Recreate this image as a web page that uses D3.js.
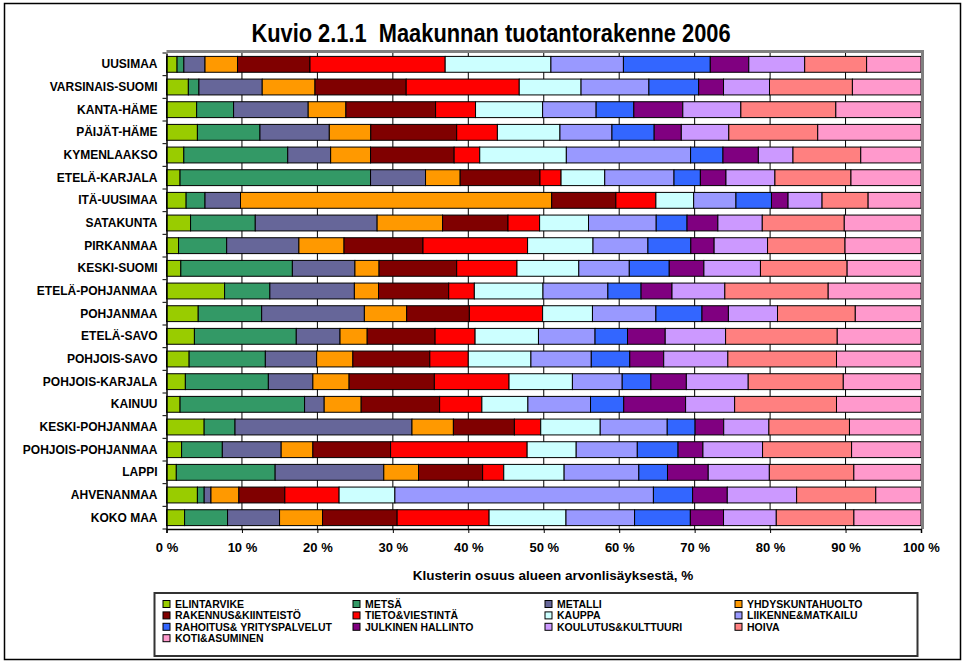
<!DOCTYPE html>
<html><head><meta charset="utf-8">
<script src="https://cdn.jsdelivr.net/npm/d3@7"></script>
<style>
body{margin:0;background:#fff}
svg{display:block}
text{font-family:"Liberation Sans",Arial,sans-serif;font-weight:bold;fill:#000}
</style>
</head><body>
<svg id="chart" width="967" height="665"></svg>
<script>
const titleText = "Kuvio 2.1.1  Maakunnan tuotantorakenne 2006";
const axisTitle = "Klusterin osuus alueen arvonlisäyksestä, %";
const regions = ["UUSIMAA","VARSINAIS-SUOMI","KANTA-HÄME","PÄIJÄT-HÄME","KYMENLAAKSO","ETELÄ-KARJALA","ITÄ-UUSIMAA","SATAKUNTA","PIRKANMAA","KESKI-SUOMI","ETELÄ-POHJANMAA","POHJANMAA","ETELÄ-SAVO","POHJOIS-SAVO","POHJOIS-KARJALA","KAINUU","KESKI-POHJANMAA","POHJOIS-POHJANMAA","LAPPI","AHVENANMAA","KOKO MAA"];
const categories = ["ELINTARVIKE","METSÄ","METALLI","YHDYSKUNTAHUOLTO","RAKENNUS&KIINTEISTÖ","TIETO&VIESTINTÄ","KAUPPA","LIIKENNE&MATKAILU","RAHOITUS& YRITYSPALVELUT","JULKINEN HALLINTO","KOULUTUS&KULTTUURI","HOIVA","KOTI&ASUMINEN"];
const colors = ["#99CC00","#339966","#666699","#FF9900","#800000","#FF0000","#CCFFFF","#9999FF","#3366FF","#800080","#CC99FF","#FF8080","#FF99CC"];

const elintarvike = [1.4,2.9,4.0,4.1,2.3,1.8,2.6,3.2,1.6,1.9,7.7,4.2,3.7,3.0,2.5,1.8,5.0,2.0,1.3,4.1,2.4];
const metsa       = [0.9,1.4,4.9,8.3,13.8,25.3,2.5,8.6,6.4,14.8,6.0,8.4,13.5,10.1,11.0,16.5,4.1,5.4,13.1,0.9,5.7];
const metalli     = [2.8,8.4,9.9,9.2,5.7,7.3,4.7,16.2,9.6,8.3,11.2,13.6,5.8,6.8,5.9,2.6,23.5,7.8,14.4,0.9,6.9];
const yhdyskunta  = [4.3,7.0,5.0,5.5,5.3,4.6,41.2,8.7,6.0,3.2,3.2,5.6,3.6,4.8,4.8,4.9,5.5,4.2,4.6,3.7,5.7];
const rakennus    = [9.6,12.1,11.9,11.4,11.1,10.6,8.5,8.7,10.5,10.3,9.3,8.3,9.0,10.2,11.3,10.4,8.1,10.3,8.5,6.1,9.9];
const tieto       = [17.9,15.0,5.3,5.4,3.4,2.8,5.3,4.2,13.9,8.0,3.4,9.7,5.3,5.1,9.9,5.6,3.5,18.1,2.8,7.2,12.2];
const kauppa      = [14.0,8.2,8.9,8.3,11.5,5.8,5.0,6.5,8.7,8.2,9.1,6.6,8.4,8.3,8.4,6.1,7.9,6.5,8.0,7.4,10.2];
const liikenne    = [9.6,9.0,7.1,6.9,16.5,9.2,5.6,9.0,7.3,6.7,8.6,8.4,7.5,8.0,6.6,8.3,8.9,8.1,9.9,34.3,9.1];
const rahoitus    = [11.5,6.6,5.0,5.6,4.3,3.5,4.7,4.1,5.7,5.3,4.4,6.1,4.3,5.1,3.8,4.4,3.7,5.4,3.8,5.2,7.4];
const julkinen    = [5.1,3.3,6.5,3.6,4.7,3.4,2.2,4.1,3.1,4.6,4.1,3.5,5.0,4.5,4.7,8.2,3.8,3.3,5.4,4.6,4.4];
const koulutus    = [7.4,6.1,7.7,6.3,4.6,6.5,4.5,5.9,7.1,7.5,7.0,6.5,8.0,8.5,8.2,6.5,6.0,7.9,8.1,9.2,7.0];
const hoiva       = [8.2,11.0,12.6,11.8,9.0,10.1,6.1,10.9,10.3,11.5,13.7,10.3,14.8,14.4,12.6,13.5,10.7,11.8,11.2,10.5,10.3];
const koti        = [7.2,9.1,11.3,13.7,8.0,9.3,7.0,10.2,10.1,9.8,12.3,8.7,11.1,11.2,10.3,11.2,9.5,9.2,8.9,6.0,8.9];

const xTickValues = [0,0.1,0.2,0.3,0.4,0.5,0.6,0.7,0.8,0.9,1];
const xTickLabels = ["0 %","10 %","20 %","30 %","40 %","50 %","60 %","70 %","80 %","90 %","100 %"];

const seriesValues = [elintarvike,metsa,metalli,yhdyskunta,rakennus,tieto,kauppa,liikenne,rahoitus,julkinen,koulutus,hoiva,koti];
const table = regions.map((r,i)=>{
  const row = {region:r};
  categories.forEach((c,j)=>{ row[c] = seriesValues[j][i]; });
  return row;
});

const svg = d3.select("#chart");
const plot = {left:166.5, right:921, top:53, bottom:529};

// outer frame
svg.append("rect").attr("x",4.5).attr("y",3.5).attr("width",956).attr("height",656)
  .attr("fill","#fff").attr("stroke","#000").attr("stroke-width",1.5);

svg.append("text").attr("transform","translate(491,42) scale(0.84,1)").attr("text-anchor","middle")
  .style("font-size","26px").style("white-space","pre").text(titleText);

const x = d3.scaleLinear().domain([0,1]).range([plot.left, plot.right]);
const y = d3.scaleBand().domain(regions).range([plot.top, plot.bottom]).paddingInner(0.3).paddingOuter(0.15);
const color = d3.scaleOrdinal().domain(categories).range(colors);

// vertical gridlines
svg.append("g").selectAll("line").data(xTickValues.slice(1,-1)).join("line")
  .attr("x1",d=>x(d)).attr("x2",d=>x(d)).attr("y1",plot.top).attr("y2",plot.bottom)
  .attr("stroke","#000").attr("stroke-width",1);

const stack = d3.stack().keys(categories).offset(d3.stackOffsetExpand);
const series = stack(table);

svg.append("g").selectAll("g").data(series).join("g")
  .attr("fill",d=>color(d.key))
  .selectAll("rect").data(d=>d).join("rect")
  .attr("x",d=>x(d[0])).attr("width",d=>x(d[1])-x(d[0]))
  .attr("y",d=>y(d.data.region)).attr("height",y.bandwidth())
  .attr("stroke","#000").attr("stroke-width",1);

// plot border: gray top/right
svg.append("line").attr("x1",plot.left).attr("x2",plot.right+2.5).attr("y1",plot.top-1.5).attr("y2",plot.top-1.5)
  .attr("stroke","#808080").attr("stroke-width",3);
svg.append("line").attr("x1",plot.right+1.5).attr("x2",plot.right+1.5).attr("y1",plot.top-3).attr("y2",plot.bottom)
  .attr("stroke","#808080").attr("stroke-width",3);

// x axis
const xAxis = d3.axisBottom(x).tickValues(xTickValues).tickFormat((d,i)=>xTickLabels[i]).tickSize(4).tickPadding(10);
const gx = svg.append("g").attr("transform",`translate(0,${plot.bottom})`).call(xAxis);
gx.select(".domain").attr("stroke","#000").attr("stroke-width",1.5);
gx.selectAll(".tick line").attr("stroke","#000");
gx.selectAll("text").style("font-size","13px").style("font-family","'Liberation Sans',Arial,sans-serif").style("font-weight","bold");

// y axis
const yAxis = d3.axisLeft(y).tickSize(0).tickPadding(9);
const gy = svg.append("g").attr("transform",`translate(${plot.left},0)`).call(yAxis);
gy.select(".domain").attr("stroke","#000").attr("stroke-width",1.5);
gy.selectAll("text").style("font-size","12px").style("font-family","'Liberation Sans',Arial,sans-serif").style("font-weight","bold");
// y tick marks at band boundaries
const step = y.step();
svg.append("g").selectAll("line").data(d3.range(regions.length+1)).join("line")
  .attr("x1",plot.left-4).attr("x2",plot.left).attr("y1",i=>plot.top+i*step).attr("y2",i=>plot.top+i*step)
  .attr("stroke","#000");

svg.append("text").attr("x",553).attr("y",580).attr("text-anchor","middle")
  .style("font-size","13.5px").text(axisTitle);

// legend
svg.append("rect").attr("x",154.5).attr("y",593).attr("width",763).attr("height",63)
  .attr("fill","#fff").attr("stroke","#333").attr("stroke-width",2);
const colX = [163,353,545,735];
const lg = svg.append("g").selectAll("g").data(categories).join("g")
  .attr("transform",(d,i)=>`translate(${colX[i%4]},${604 + Math.floor(i/4)*11.4})`);
lg.append("rect").attr("x",0).attr("y",-3.5).attr("width",7).attr("height",7)
  .attr("fill",d=>color(d)).attr("stroke","#000").attr("stroke-width",1);
lg.append("text").attr("x",12).attr("y",4).style("font-size","10.5px").text(d=>d);
</script>
</body></html>
